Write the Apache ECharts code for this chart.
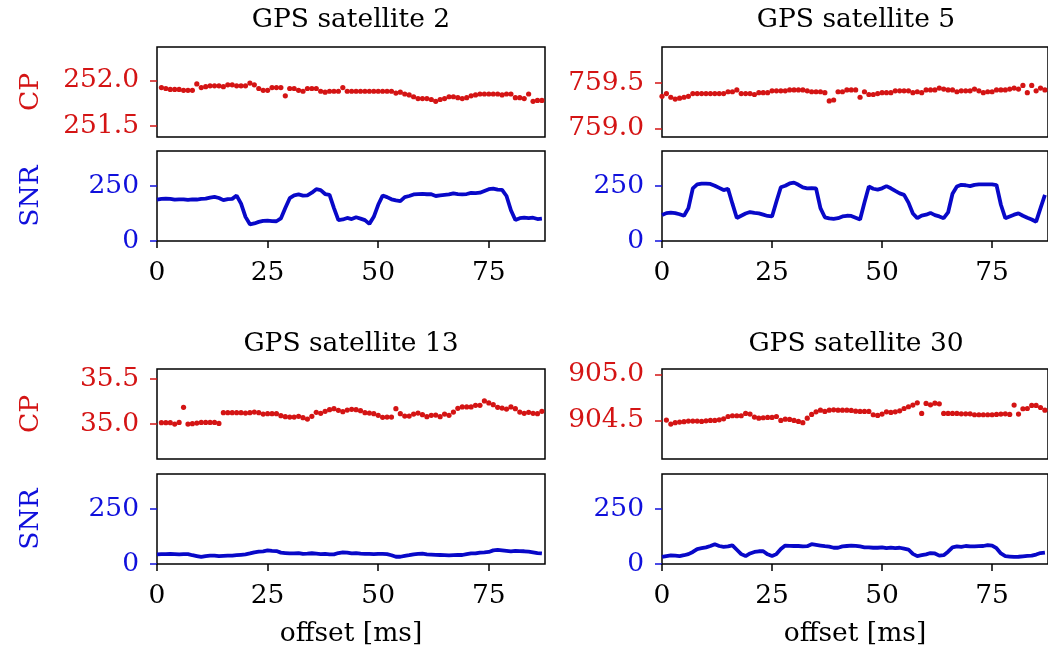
<!DOCTYPE html>
<html><head><meta charset="utf-8">
<script src="https://cdn.jsdelivr.net/npm/echarts@6/dist/echarts.min.js"></script>
<style>html,body{margin:0;padding:0;background:#fff}#c{width:1048px;height:649px}</style>
</head><body><div id="c"></div>
<script>
const offsets = [0,1,2,3,4,5,6,7,8,9,10,11,12,13,14,15,16,17,18,19,20,21,22,23,24,25,26,27,28,29,30,31,32,33,34,35,36,37,38,39,40,41,42,43,44,45,46,47,48,49,50,51,52,53,54,55,56,57,58,59,60,61,62,63,64,65,66,67,68,69,70,71,72,73,74,75,76,77,78,79,80,81,82,83,84,85,86,87];
const titles = ['GPS satellite 2','GPS satellite 5','GPS satellite 13','GPS satellite 30'];

const cpSat2 = [null,251.92,251.91,251.90,251.90,251.90,251.89,251.89,251.89,251.96,
251.92,251.93,251.94,251.94,251.94,251.93,251.95,251.95,251.94,251.94,
251.94,251.97,251.95,251.91,251.89,251.89,251.92,251.92,251.92,251.83,
251.91,251.91,251.89,251.88,251.91,251.91,251.91,251.88,251.87,251.88,
251.88,251.88,251.92,251.88,251.88,251.88,251.88,251.88,251.88,251.88,
251.88,251.88,251.88,251.88,251.86,251.87,251.85,251.84,251.82,251.80,
251.80,251.80,251.79,251.77,251.79,251.80,251.82,251.82,251.81,251.80,
251.81,251.83,251.84,251.85,251.85,251.85,251.85,251.85,251.84,251.85,
251.85,251.81,251.81,251.80,251.85,251.77,251.78,251.78];
const snrSat2 = [189,192,193,192,188,190,190,187,190,189,
192,193,198,201,196,186,191,192,207,170,
110,76,80,87,92,93,91,90,103,150,
195,208,212,207,208,220,236,232,214,210,
150,95,98,105,100,108,102,95,78,110,
165,207,200,190,185,182,200,205,212,214,
215,213,213,205,208,210,212,217,214,212,
214,219,218,220,228,236,239,234,233,205,
140,96,104,106,104,106,100,102];

const cpSat5 = [759.35,759.38,759.34,759.32,759.33,759.34,759.35,759.38,759.38,759.38,
759.38,759.38,759.38,759.38,759.38,759.40,759.40,759.42,759.38,759.38,
759.38,759.37,759.39,759.39,759.39,759.41,759.41,759.41,759.41,759.42,
759.42,759.42,759.42,759.41,759.40,759.40,759.40,759.39,759.30,759.31,
759.40,759.40,759.42,759.42,759.42,759.34,759.40,759.37,759.37,759.38,
759.39,759.39,759.39,759.41,759.41,759.41,759.41,759.39,759.40,759.39,
759.42,759.42,759.42,759.44,759.43,759.42,759.42,759.40,759.41,759.41,
759.41,759.43,759.41,759.39,759.40,759.40,759.42,759.42,759.42,759.43,
759.44,759.43,759.47,759.39,759.47,759.41,759.44,759.42];
const snrSat5 = [118,127,129,127,122,115,150,240,258,261,
261,260,252,242,232,238,170,105,115,125,
132,128,126,120,114,112,180,245,252,262,
266,256,244,240,241,240,150,108,103,101,
104,112,115,114,106,98,175,248,238,234,
240,250,240,228,217,210,175,125,104,116,
120,128,118,112,104,130,215,248,256,254,
250,256,258,258,258,258,255,165,104,112,
120,126,115,106,98,88,150,210];

const cpSat13 = [null,35.015,35.015,35.015,35.000,35.018,35.184,35.000,35.004,35.011,
35.018,35.018,35.018,35.018,35.007,35.125,35.125,35.125,35.125,35.125,
35.121,35.125,35.132,35.125,35.110,35.114,35.114,35.114,35.092,35.081,
35.077,35.077,35.085,35.070,35.055,35.085,35.129,35.118,35.140,35.158,
35.169,35.151,35.136,35.154,35.162,35.158,35.147,35.125,35.121,35.114,
35.096,35.074,35.077,35.077,35.169,35.114,35.088,35.088,35.110,35.121,
35.103,35.081,35.096,35.099,35.081,35.110,35.096,35.132,35.173,35.188,
35.188,35.188,35.206,35.206,35.254,35.232,35.213,35.184,35.176,35.165,
35.188,35.169,35.132,35.118,35.129,35.118,35.114,35.140];
const snrSat13 = [44,45,45,46,45,44,45,45,40,36,
32,36,38,38,36,37,38,38,40,42,
44,48,53,56,58,62,60,59,52,50,
48,48,50,46,47,49,47,45,46,44,
44,50,53,52,48,50,47,46,46,45,
46,46,45,40,33,33,37,40,44,46,
47,44,43,42,41,40,39,40,41,41,
45,48,48,52,53,55,62,64,62,60,
58,60,59,58,56,53,50,48];

const cpSat30 = [null,904.504,904.460,904.475,904.482,904.486,904.493,904.493,904.493,904.489,
904.496,904.500,904.500,904.507,904.518,904.543,904.551,904.551,904.551,904.576,
904.569,904.536,904.525,904.529,904.533,904.533,904.543,904.500,904.514,904.511,
904.500,904.489,904.475,904.525,904.565,904.594,904.612,904.598,904.612,904.616,
904.612,904.612,904.612,904.609,904.601,904.598,904.598,904.598,904.562,904.554,
904.569,904.594,904.587,904.594,904.605,904.630,904.649,904.667,904.692,904.576,
904.685,904.670,904.688,904.681,904.576,904.576,904.576,904.576,904.572,904.572,
904.572,904.562,904.562,904.562,904.562,904.562,904.565,904.569,904.572,904.565,
904.667,904.569,904.627,904.630,904.663,904.663,904.641,904.612];
const snrSat30 = [32,36,39,38,36,40,45,55,68,72,
76,82,90,82,78,80,85,65,45,36,
48,55,58,58,44,36,45,68,84,83,
82,82,80,81,90,87,84,81,79,74,
74,80,82,84,83,80,76,76,74,74,
76,72,75,72,74,70,66,46,36,40,
44,50,48,38,40,56,76,80,78,82,
80,80,81,82,86,84,72,48,36,34,
32,33,35,37,38,43,50,52];

const cpLimits = [[251.38, 252.364], [758.905, 759.89], [34.615, 35.606], [904.08, 905.06]];
const cpTicks = [[251.5, 252.0], [759.0, 759.5], [35.0, 35.5], [904.5, 905.0]];
const snrLimits = [0, 410];
const snrTicks = [0, 250];
const xLimits = [0, 87.7];
const xTicks = [0, 25, 50, 75];

const cpData = [cpSat2, cpSat5, cpSat13, cpSat30];
const snrData = [snrSat2, snrSat5, snrSat13, snrSat30];

const FONT = 'DejaVu Serif';
const RED = '#d41414';
const BLUE = '#0808c8';
const BLUE_TEXT = '#1010dc';
const FS = 26.5;

const colLeft = [157, 662];
const panelW = 388;
const rowTops = [[47, 151], [369, 474]];
const titleOffset = [27, 25];
const panelH = 90;

function pairs(ys) {
  const out = [];
  for (let i = 0; i < offsets.length; i++) if (ys[i] != null) out.push([offsets[i], ys[i]]);
  return out;
}

const grid = [], xAxis = [], yAxis = [], series = [], graphic = [];
for (let p = 0; p < 4; p++) {
  const col = p % 2, row = Math.floor(p / 2);
  const left = colLeft[col];
  for (let k = 0; k < 2; k++) {
    const isSnr = k === 1;
    const gi = grid.length;
    grid.push({left: left, top: rowTops[row][k], width: panelW, height: panelH,
      show: true, borderColor: '#000', borderWidth: 1.5, backgroundColor: 'transparent'});
    xAxis.push({
      gridIndex: gi, type: 'value', min: xLimits[0], max: xLimits[1],
      axisLine: {show: false}, splitLine: {show: false},
      axisTick: {show: isSnr, customValues: xTicks, length: 7, lineStyle: {color: '#000', width: 1.5}},
      axisLabel: {show: isSnr, customValues: xTicks, color: '#000', fontFamily: FONT, fontSize: FS, margin: 19},
      name: (isSnr && row === 1) ? 'offset [ms]' : '',
      nameLocation: 'middle', nameGap: 57,
      nameTextStyle: {color: '#000', fontFamily: FONT, fontSize: FS}
    });
    const color = isSnr ? BLUE_TEXT : RED;
    const ticks = isSnr ? snrTicks : cpTicks[p];
    const lim = isSnr ? snrLimits : cpLimits[p];
    yAxis.push({
      gridIndex: gi, type: 'value', min: lim[0], max: lim[1],
      axisLine: {show: false}, splitLine: {show: false},
      axisTick: {show: true, customValues: ticks, length: 7, lineStyle: {color: color, width: 1.5}},
      axisLabel: {customValues: ticks, color: color, fontFamily: FONT, fontSize: FS, margin: 18,
        formatter: isSnr ? (v => String(Math.round(v))) : (v => v.toFixed(1))},
      name: col === 0 ? (isSnr ? 'SNR' : 'CP') : '',
      nameLocation: 'middle', nameRotate: 90, nameGap: 112,
      nameTextStyle: {color: color, fontFamily: FONT, fontSize: FS}
    });
    if (isSnr) {
      series.push({type: 'line', xAxisIndex: gi, yAxisIndex: gi, data: pairs(snrData[p]),
        showSymbol: false, lineStyle: {color: BLUE, width: 3.8}, itemStyle: {color: BLUE}});
    } else {
      series.push({type: 'scatter', xAxisIndex: gi, yAxisIndex: gi, data: pairs(cpData[p]),
        symbolSize: 5.2, itemStyle: {color: RED, opacity: 1}});
    }
  }
  graphic.push({type: 'text', x: left + panelW / 2, y: rowTops[row][0] - titleOffset[row],
    style: {text: titles[p], align: 'center', verticalAlign: 'middle', fill: '#000',
      fontFamily: FONT, fontSize: 26.5}});
}

const chart = echarts.init(document.getElementById('c'), null, {renderer: 'canvas'});
chart.setOption({animation: false, backgroundColor: '#fff', grid, xAxis, yAxis, series, graphic});
</script></body></html>
